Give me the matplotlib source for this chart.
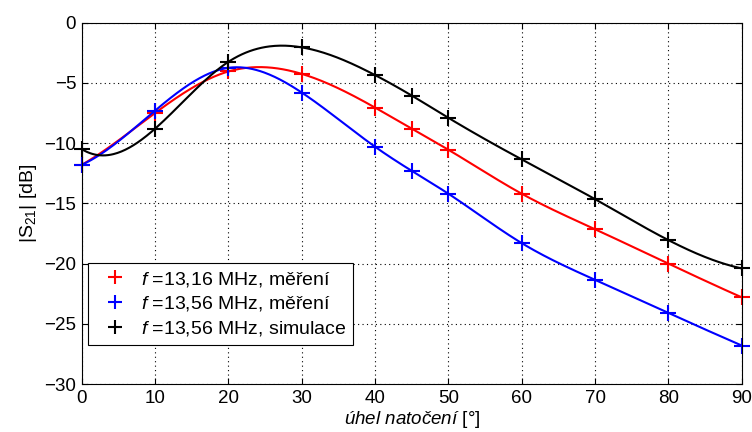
import numpy as np
import matplotlib
matplotlib.use('Agg')
import matplotlib.pyplot as plt

plt.rcParams['font.family'] = ['Liberation Sans', 'DejaVu Sans']
plt.rcParams['mathtext.fontset'] = 'custom'
plt.rcParams['mathtext.rm'] = 'Liberation Sans'
plt.rcParams['mathtext.it'] = 'Liberation Sans:italic'

# angle [deg]
angle = [0, 10, 20, 30, 40, 45, 50, 60, 70, 80, 90]
s21_1316_meas = [-11.8, -7.5, -4.05, -4.25, -7.05, -8.8, -10.55, -14.2, -17.15, -20.0, -22.8]
s21_1356_meas = [-11.8, -7.3, -3.75, -5.8, -10.3, -12.3, -14.2, -18.3, -21.35, -24.1, -26.8]
s21_1356_sim = [-10.5, -8.8, -3.25, -2.05, -4.35, -6.05, -7.9, -11.35, -14.65, -18.05, -20.4]

labels = [r'$f$ =13,16 MHz, měření', r'$f$ =13,56 MHz, měření', r'$f$ =13,56 MHz, simulace']
colors = ['red', 'blue', 'black']


def spline(x, y, xs):
    # cubic spline, not-a-knot ends (like matlab spline)
    x = np.asarray(x, float); y = np.asarray(y, float)
    n = len(x)
    h = np.diff(x)
    A = np.zeros((n, n)); b = np.zeros(n)
    A[0, 0], A[0, 1], A[0, 2] = h[1], -(h[0] + h[1]), h[0]
    A[-1, -3], A[-1, -2], A[-1, -1] = h[-1], -(h[-2] + h[-1]), h[-2]
    for i in range(1, n - 1):
        A[i, i - 1] = h[i - 1]
        A[i, i] = 2 * (h[i - 1] + h[i])
        A[i, i + 1] = h[i]
        b[i] = 6 * ((y[i + 1] - y[i]) / h[i] - (y[i] - y[i - 1]) / h[i - 1])
    M = np.linalg.solve(A, b)
    k = np.clip(np.searchsorted(x, xs) - 1, 0, n - 2)
    hk = h[k]
    t1 = x[k + 1] - xs
    t0 = xs - x[k]
    return (M[k] * t1**3 / (6 * hk) + M[k + 1] * t0**3 / (6 * hk)
            + (y[k] / hk - M[k] * hk / 6) * t1 + (y[k + 1] / hk - M[k + 1] * hk / 6) * t0)


fig = plt.figure(figsize=(7.52, 4.32), dpi=100)
ax = fig.add_axes([0.1087, 0.111, 0.8776, 0.8365])

xs = np.linspace(0, 90, 500)
for ys, c, lab in zip([s21_1316_meas, s21_1356_meas, s21_1356_sim], colors, labels):
    ax.plot(xs, spline(angle, ys, xs), color=c, lw=1.5)
    ax.plot(angle, ys, '+', color=c, ms=11, mew=1.5, label=lab, clip_on=False)

ax.set_xlim(0, 90)
ax.set_ylim(-30, 0)
ax.set_xticks(np.arange(0, 91, 10))
ax.set_yticks(np.arange(-30, 1, 5))
ax.grid(True, color='black', linestyle=(0, (1, 3)), linewidth=0.8)
ax.tick_params(direction='in', labelsize=13.5, top=True, right=True, length=4, pad=4)
for s in ax.spines.values():
    s.set_linewidth(0.8)

ax.set_xlabel(r'$\mathit{úhel\ natočení}$ [°]', fontsize=13.5, labelpad=2)
ax.set_ylabel(r'$|\mathrm{S}_{21}|$ [dB]', fontsize=14, labelpad=4)

leg = ax.legend(loc='lower left', bbox_to_anchor=(0.0095, 0.108), fontsize=14,
                fancybox=False, framealpha=1, edgecolor='black', handlelength=2.1,
                borderpad=0.35, labelspacing=0.3, handletextpad=0.25, borderaxespad=0,
                markerscale=0.9)
leg.get_frame().set_linewidth(0.8)

fig.savefig('out.png', dpi=100)
